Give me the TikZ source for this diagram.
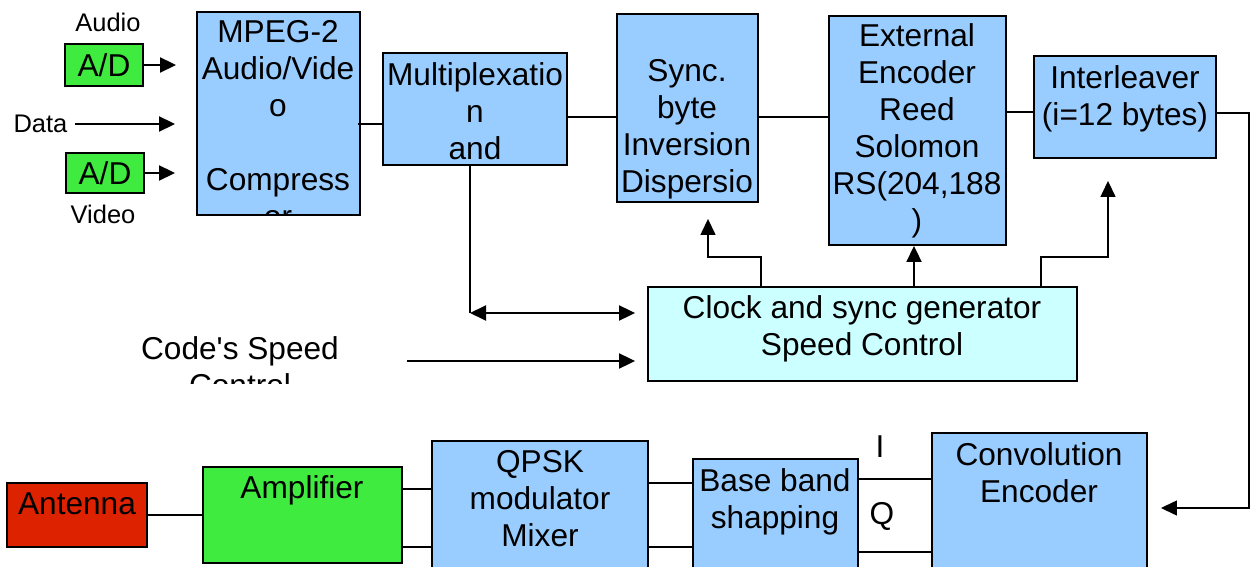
\documentclass[tikz,border=0pt]{standalone}
\usepackage{fontspec}
\setmainfont{Liberation Sans}
\usetikzlibrary{arrows.meta}
\definecolor{boxBlue}{HTML}{99CCFF}
\definecolor{boxGreen}{HTML}{3FEB3F}
\definecolor{boxCyan}{HTML}{CCFFFF}
\definecolor{boxRed}{HTML}{DD2200}
\begin{document}
\begin{tikzpicture}[x=0.02cm, y=-0.02cm,
    blockStyle/.style={rectangle, draw, line width=1.1pt, inner sep=0pt},
    textStyle/.style={align=center, inner sep=0pt, font=\fontsize{18}{21}\selectfont},
    smallStyle/.style={inner sep=0pt, font=\fontsize{14.5}{17}\selectfont},
    wireStyle/.style={line width=0.8pt},
    tipStyle/.style={line width=1.1pt},
    arrowStyle/.style={tipStyle, -{Triangle[length=0.32cm, width=0.3cm]}},
    dblStyle/.style={tipStyle, {Triangle[length=0.32cm, width=0.3cm]}-{Triangle[length=0.32cm, width=0.3cm]}}]
    \useasboundingbox (0,0) rectangle (1250,567);
    \clip (0,0) rectangle (1250,567);

    % inputs
    \node[smallStyle] (audio_lbl) at (108, 22) {Audio};
    \node[smallStyle] (data_lbl)  at (40.5,124) {Data};
    \node[smallStyle] (video_lbl) at (103,214) {Video};
    \node[blockStyle, fill=boxGreen, minimum width=1.56cm, minimum height=0.84cm, textStyle] (ad_audio) at (104, 65) {A/D};
    \node[blockStyle, fill=boxGreen, minimum width=1.56cm, minimum height=0.8cm, textStyle]  (ad_video) at (105,173) {A/D};

    % upper chain
    \node[blockStyle, fill=boxBlue, minimum width=3.26cm, minimum height=4.06cm] (mpeg)  at (278.5,113.5) {};
    \begin{scope}
        \clip (mpeg.south west) rectangle (mpeg.north east);
        \node[textStyle] (mpeg_txt) at (278,124) {MPEG-2\\Audio/Vide\\o\\[21pt]Compress\\or};
    \end{scope}
    \node[blockStyle, fill=boxBlue, minimum width=3.68cm, minimum height=2.24cm] (mux)   at (475,109) {};
    \node[textStyle] (mux_txt)   at (475,111) {Multiplexatio\\n\\and};
    \node[blockStyle, fill=boxBlue, minimum width=2.82cm, minimum height=3.76cm] (sync)  at (687.5,108) {};
    \node[textStyle] (sync_txt)  at (687,129) {Sync.\\byte\\Inversion\\Dispersio};
    \node[blockStyle, fill=boxBlue, minimum width=3.54cm, minimum height=4.58cm] (rs)    at (917.5,130.5) {};
    \node[textStyle] (rs_txt)    at (917,131) {External\\Encoder\\Reed\\Solomon\\RS(204,188\\)};
    \node[blockStyle, fill=boxBlue, minimum width=3.64cm, minimum height=2.04cm] (inter) at (1125,107) {};
    \node[textStyle] (inter_txt) at (1125,98.5) {Interleaver\\(i=12 bytes)};

    % clock
    \node[blockStyle, fill=boxCyan, minimum width=8.58cm, minimum height=1.88cm] (clock) at (862.5,334) {};
    \node[textStyle] (clock_txt) at (862,328.5) {Clock and sync generator\\Speed Control};
    \begin{scope}
        \clip (120,320) rectangle (360,383);
        \node[textStyle] (speed_txt) at (240,367) {Code\textquotesingle s Speed\\Control};
    \end{scope}

    % lower chain
    \node[blockStyle, fill=boxRed,   minimum width=2.8cm,  minimum height=1.28cm] (antenna) at (77,515) {};
    \node[textStyle] (antenna_txt) at (77,504) {Antenna};
    \node[blockStyle, fill=boxGreen, minimum width=3.98cm, minimum height=1.92cm] (amp)  at (302.5,515) {};
    \node[textStyle] (amp_txt)  at (302,490.5) {Amplifier};
    \node[blockStyle, fill=boxBlue,  minimum width=4.32cm, minimum height=3.18cm] (qpsk) at (540,520.5) {};
    \node[textStyle] (qpsk_txt) at (540,498.5) {QPSK\\modulator\\Mixer};
    \node[blockStyle, fill=boxBlue,  minimum width=3.3cm,  minimum height=2.18cm] (bb)   at (775.5,513.5) {};
    \node[textStyle] (bb_txt)   at (775,501.5) {Base band\\shapping};
    \node[blockStyle, fill=boxBlue,  minimum width=4.3cm,  minimum height=3.34cm] (conv) at (1039.5,516.5) {};
    \node[textStyle] (conv_txt) at (1039,473) {Convolution\\Encoder};
    \node[textStyle] (i_lbl) at (880,447) {I};
    \node[textStyle] (q_lbl) at (882,516) {Q};

    % input arrows
    \draw[arrowStyle, shorten >=0.4cm] (ad_audio.east) -- (ad_audio.east -| mpeg.west);
    \draw[arrowStyle, shorten <=0.14cm, shorten >=0.42cm] (data_lbl.east) -- (data_lbl.east -| mpeg.west);
    \draw[arrowStyle, shorten >=0.42cm] (ad_video.east) -- (ad_video.east -| mpeg.west);

    % upper wires
    \coordinate (mpeg_out) at (358,124);
    \coordinate (chain_a) at (600,117);
    \coordinate (chain_b) at (1020,112);
    \draw[wireStyle] (mpeg_out) -- (mpeg_out -| mux.west);
    \draw[wireStyle] (mux.east |- chain_a) -- (sync.west |- chain_a);
    \draw[wireStyle] (sync.east |- chain_a) -- (rs.west |- chain_a);
    \draw[wireStyle] (rs.east |- chain_b) -- (inter.west |- chain_b);
    \coordinate (loop_top) at (1249,113);
    \coordinate (loop_bot) at (1249,508);
    \draw[arrowStyle, line width=0.8pt, shorten >=0.26cm] (inter.east |- loop_top) -- (loop_top) -- (loop_bot) -- (loop_bot -| conv.east);

    % clock wires
    \coordinate (clk_l) at (761,257);
    \coordinate (sync_ctl) at (708,257);
    \draw[arrowStyle, line width=0.8pt, shorten >=0.32cm] (clk_l |- clock.north) -- (clk_l) -- (sync_ctl) -- (sync_ctl |- sync.south);
    \coordinate (rs_ctl) at (914,266);
    \draw[arrowStyle] (rs_ctl |- clock.north) -- (rs_ctl |- rs.south);
    \coordinate (clk_r) at (1041,257);
    \coordinate (inter_ctl) at (1108,257);
    \draw[arrowStyle, line width=0.8pt, shorten >=0.44cm] (clk_r |- clock.north) -- (clk_r) -- (inter_ctl) -- (inter_ctl |- inter.south);
    \coordinate (mux_corner) at (470,313);
    \draw[wireStyle] (mux_corner |- mux.south) -- (mux_corner);
    \draw[dblStyle, shorten >=0.24cm] (mux_corner) -- (mux_corner -| clock.west);
    \coordinate (speed_in) at (407,361);
    \draw[arrowStyle, shorten >=0.24cm] (speed_in) -- (speed_in -| clock.west);

    % lower wires
    \coordinate (row_a) at (0,489);
    \coordinate (row_b) at (0,547);
    \coordinate (row_c) at (0,483);
    \coordinate (row_i) at (0,479);
    \coordinate (row_q) at (0,552);
    \draw[wireStyle] (antenna.east) -- (antenna.east -| amp.west);
    \draw[wireStyle] (amp.east |- row_a) -- (qpsk.west |- row_a);
    \draw[wireStyle] (amp.east |- row_b) -- (qpsk.west |- row_b);
    \draw[wireStyle] (qpsk.east |- row_c) -- (bb.west |- row_c);
    \draw[wireStyle] (qpsk.east |- row_b) -- (bb.west |- row_b);
    \draw[wireStyle] (bb.east |- row_i) -- (conv.west |- row_i);
    \draw[wireStyle] (bb.east |- row_q) -- (conv.west |- row_q);
\end{tikzpicture}
\end{document}
